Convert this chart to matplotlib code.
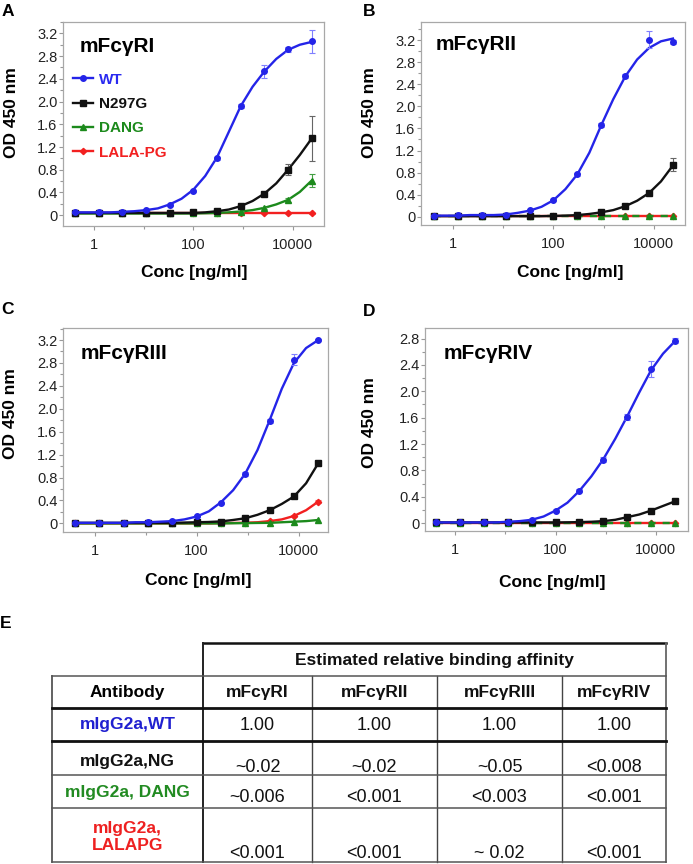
import matplotlib
matplotlib.use('Agg')
import matplotlib.pyplot as plt
from matplotlib.lines import Line2D
from matplotlib.ticker import FixedLocator, MultipleLocator, FuncFormatter, NullFormatter

plt.rcParams['font.family'] = ['Liberation Sans', 'DejaVu Sans']

# ── Concentrations (ng/ml), 1:3 dilution series ─────────────────────
conc = [0.41, 1.23, 3.7, 11.1, 33.3, 100, 300, 900, 2700, 8100, 24300]
# points (half steps)
conc_fit = [0.41, 0.71, 1.23, 2.13, 3.7, 6.4, 11.1, 19.2, 33.3, 57.7, 100,
            173, 300, 520, 900, 1560, 2700, 4680, 8100, 14000, 24300]

# ── A: mFcγRI ───────────────────────────────────────────────────────
a_wt = [0.05, 0.05, 0.06, 0.09, 0.18, 0.43, 1.00, 1.92, 2.53, 2.92, 3.06]
a_wt_err = [0.01, 0.01, 0.01, 0.01, 0.01, 0.02, 0.03, 0.03, 0.12, 0.04, 0.20]
a_wt_fit = [0.05, 0.05, 0.05, 0.05, 0.06, 0.07, 0.09, 0.12, 0.19, 0.29, 0.45,
            0.69, 1.02, 1.47, 1.92, 2.26, 2.53, 2.75, 2.91, 3.00, 3.05]
a_ng = [0.04, 0.04, 0.04, 0.04, 0.04, 0.05, 0.07, 0.17, 0.37, 0.80, 1.35]
a_ng_err = [0, 0, 0, 0, 0, 0.01, 0.01, 0.02, 0.03, 0.10, 0.40]
a_ng_fit = [0.04, 0.04, 0.04, 0.04, 0.04, 0.04, 0.04, 0.04, 0.04, 0.04, 0.04,
            0.05, 0.07, 0.10, 0.16, 0.25, 0.38, 0.56, 0.80, 1.06, 1.35]
a_dang = [0.03, 0.03, 0.03, 0.03, 0.03, 0.03, 0.04, 0.06, 0.13, 0.27, 0.61]
a_dang_err = [0, 0, 0, 0, 0, 0, 0, 0.01, 0.02, 0.03, 0.11]
a_dang_fit = [0.03, 0.03, 0.03, 0.03, 0.03, 0.03, 0.03, 0.03, 0.03, 0.03, 0.03,
              0.035, 0.04, 0.05, 0.065, 0.09, 0.13, 0.19, 0.27, 0.41, 0.61]
a_lala = [0.03, 0.03, 0.03, 0.03, 0.03, 0.03, 0.03, 0.03, 0.03, 0.03, 0.03]
a_lala_err = [0, 0, 0, 0, 0, 0, 0, 0, 0, 0, 0.01]

# ── B: mFcγRII ──────────────────────────────────────────────────────
b_wt = [0.02, 0.03, 0.03, 0.04, 0.12, 0.30, 0.77, 1.66, 2.55, 3.21, 3.17]
b_wt_err = [0.01, 0.01, 0.01, 0.01, 0.02, 0.02, 0.03, 0.04, 0.04, 0.16, 0.03]
b_wt_fit = [0.02, 0.02, 0.02, 0.03, 0.03, 0.03, 0.04, 0.07, 0.11, 0.18, 0.30,
            0.50, 0.77, 1.16, 1.66, 2.13, 2.54, 2.85, 3.06, 3.18, 3.23]
b_ng = [0.01, 0.01, 0.01, 0.01, 0.01, 0.01, 0.03, 0.08, 0.19, 0.43, 0.94]
b_ng_err = [0, 0, 0, 0, 0, 0, 0, 0.01, 0.02, 0.02, 0.12]
b_ng_fit = [0.01, 0.01, 0.01, 0.01, 0.01, 0.01, 0.01, 0.01, 0.01, 0.01, 0.015,
            0.02, 0.03, 0.05, 0.08, 0.12, 0.19, 0.29, 0.43, 0.64, 0.93]
b_dang = [0.01, 0.01, 0.01, 0.01, 0.01, 0.01, 0.01, 0.01, 0.01, 0.01, 0.01]
b_lala = [0.005, 0.005, 0.005, 0.005, 0.005, 0.005, 0.005, 0.005, 0.005, 0.005, 0.005]

# ── C: mFcγRIII ─────────────────────────────────────────────────────
c_wt = [0.01, 0.01, 0.01, 0.02, 0.04, 0.13, 0.36, 0.86, 1.79, 2.86, 3.20]
c_wt_err = [0, 0, 0, 0, 0.01, 0.01, 0.02, 0.03, 0.04, 0.09, 0.02]
c_wt_fit = [0.01, 0.01, 0.01, 0.01, 0.01, 0.02, 0.02, 0.03, 0.04, 0.07, 0.12,
            0.21, 0.37, 0.58, 0.87, 1.28, 1.80, 2.35, 2.80, 3.06, 3.20]
c_ng = [0.01, 0.01, 0.01, 0.01, 0.01, 0.02, 0.03, 0.09, 0.24, 0.47, 1.06]
c_ng_err = [0, 0, 0, 0, 0, 0, 0, 0.01, 0.01, 0.01, 0.02]
c_ng_fit = [0.01, 0.01, 0.01, 0.01, 0.01, 0.01, 0.01, 0.01, 0.01, 0.015, 0.02,
            0.025, 0.035, 0.06, 0.09, 0.15, 0.23, 0.34, 0.47, 0.70, 1.05]
c_dang = [0.0, 0.0, 0.0, 0.0, 0.0, 0.0, 0.0, 0.005, 0.01, 0.03, 0.06]
c_dang_fit = [0.0, 0.0, 0.0, 0.0, 0.0, 0.0, 0.0, 0.0, 0.0, 0.0, 0.0,
              0.0, 0.0, 0.003, 0.005, 0.008, 0.01, 0.02, 0.03, 0.04, 0.06]
c_lala = [0.0, 0.0, 0.0, 0.0, 0.0, 0.0, 0.005, 0.01, 0.04, 0.13, 0.38]
c_lala_err = [0, 0, 0, 0, 0, 0, 0, 0, 0.01, 0.01, 0.02]
c_lala_fit = [0.0, 0.0, 0.0, 0.0, 0.0, 0.0, 0.0, 0.0, 0.0, 0.0, 0.0,
              0.0, 0.005, 0.008, 0.012, 0.02, 0.04, 0.07, 0.13, 0.23, 0.38]

# ── D: mFcγRIV ──────────────────────────────────────────────────────
d_wt = [0.01, 0.01, 0.01, 0.02, 0.05, 0.19, 0.49, 0.96, 1.61, 2.34, 2.77]
d_wt_err = [0, 0, 0, 0, 0.01, 0.02, 0.02, 0.04, 0.05, 0.12, 0.04]
d_wt_fit = [0.01, 0.01, 0.01, 0.01, 0.01, 0.01, 0.02, 0.03, 0.05, 0.10, 0.19,
            0.31, 0.49, 0.71, 0.97, 1.28, 1.62, 1.98, 2.32, 2.57, 2.76]
d_ng = [0.01, 0.01, 0.01, 0.01, 0.01, 0.01, 0.02, 0.03, 0.09, 0.18, 0.33]
d_ng_err = [0, 0, 0, 0, 0, 0, 0, 0, 0.01, 0.01, 0.01]
d_ng_fit = [0.01, 0.01, 0.01, 0.01, 0.01, 0.01, 0.01, 0.01, 0.01, 0.01, 0.01,
            0.012, 0.015, 0.02, 0.03, 0.05, 0.09, 0.13, 0.19, 0.26, 0.33]
d_dang = [0.005, 0.005, 0.005, 0.005, 0.005, 0.005, 0.005, 0.005, 0.005, 0.005, 0.005]
d_lala = [0.005, 0.005, 0.005, 0.005, 0.005, 0.005, 0.005, 0.005, 0.005, 0.005, 0.005]

# ── Table E ─────────────────────────────────────────────────────────
antibodies = ['mIgG2a,WT', 'mIgG2a,NG', 'mIgG2a, DANG', 'mIgG2a,\nLALAPG']
receptors = ['mFcγRI', 'mFcγRII', 'mFcγRIII', 'mFcγRIV']
affinity = [
    ['1.00', '1.00', '1.00', '1.00'],
    ['~0.02', '~0.02', '~0.05', '<0.008'],
    ['~0.006', '<0.001', '<0.003', '<0.001'],
    ['<0.001', '<0.001', '~ 0.02', '<0.001'],
]

series_names = ['WT', 'N297G', 'DANG', 'LALA-PG']
colors = {'WT': '#2424e8', 'N297G': '#111111', 'DANG': '#1c8a1c', 'LALA-PG': '#f22020'}
ecolors = {'WT': '#7f7fff', 'N297G': '#666666', 'DANG': '#44a044', 'LALA-PG': '#f06a6a'}
markers = {'WT': ('o', 4.0), 'N297G': ('s', 4.0), 'DANG': ('^', 4.6), 'LALA-PG': ('D', 3.2)}
label_colors = ['#2020d0', '#111111', '#228b22', '#ee2020']

W, H = 693, 864
fig = plt.figure(figsize=(W / 100, H / 100), dpi=100)


def px_axes(left, top, right, bottom):
    return fig.add_axes([left / W, 1 - bottom / H, (right - left) / W, (bottom - top) / H])


def px_text(x, y, s, **kw):
    fig.text(x / W, 1 - y / H, s, **kw)


def zero_fmt(v, pos):
    return '0' if abs(v) < 1e-9 else f'{v:.1f}'


# panel letter, title, box (px), xlim, ylim, ytick max, letter pos, title pos, ylabel pos, xlabel pos, series
panels = [
    ('A', 'mFcγRI', (63, 22, 324, 226), (0.235, 43000), (-0.19, 3.40), 3.2,
     (8, 12), (80, 47), (12, 113), (194, 272),
     {'LALA-PG': (a_lala, a_lala_err, None), 'DANG': (a_dang, a_dang_err, a_dang_fit),
      'N297G': (a_ng, a_ng_err, a_ng_fit), 'WT': (a_wt, a_wt_err, a_wt_fit)}),
    ('B', 'mFcγRII', (421, 22, 685, 225), (0.226, 42300), (-0.15, 3.53), 3.2,
     (369, 11), (436, 45), (370, 113), (570, 272),
     {'LALA-PG': (b_lala, None, None), 'DANG': (b_dang, None, None),
      'N297G': (b_ng, b_ng_err, b_ng_fit), 'WT': (b_wt, b_wt_err, b_wt_fit)}),
    ('C', 'mFcγRIII', (63, 328, 328, 532), (0.239, 37700), (-0.15, 3.41), 3.2,
     (7, 309), (81, 353), (11, 414), (198, 580),
     {'LALA-PG': (c_lala, c_lala_err, c_lala_fit), 'DANG': (c_dang, None, c_dang_fit),
      'N297G': (c_ng, c_ng_err, c_ng_fit), 'WT': (c_wt, c_wt_err, c_wt_fit)}),
    ('D', 'mFcγRIV', (425, 328, 688, 531), (0.247, 44200), (-0.12, 2.96), 2.8,
     (369, 311), (444, 353), (370, 423), (552, 582),
     {'LALA-PG': (d_lala, None, None), 'DANG': (d_dang, None, None),
      'N297G': (d_ng, d_ng_err, d_ng_fit), 'WT': (d_wt, d_wt_err, d_wt_fit)}),
]

for (letter, title, box, xlim, ylim, ytop, lpos, tpos, ylpos, xlpos, data) in panels:
    ax = px_axes(*box)
    ax.set_xscale('log')
    for z, name in enumerate(['LALA-PG', 'DANG', 'N297G', 'WT']):
        meas, err, fit = data[name]
        c = colors[name]
        ls = '-'
        # in B and D the flat DANG/LALA-PG curves overlap -> red/green dashes
        if name == 'DANG' and letter in ('B', 'D'):
            ls = (0, (3, 3))
        if fit is None:
            ax.plot(conc, meas, color=c, lw=1.7, ls=ls, zorder=2 + z)
        else:
            ax.plot(conc_fit, fit, color=c, lw=1.7, ls=ls, zorder=2 + z)
        m, ms = markers[name]
        ax.errorbar(conc, meas, yerr=err, fmt=m, ms=ms, color=c, mec=c,
                    ecolor=ecolors[name], elinewidth=0.8, capsize=2, capthick=0.8,
                    zorder=2 + z)

    ax.set_xlim(*xlim)
    ax.set_ylim(*ylim)
    ax.xaxis.set_major_locator(FixedLocator([1, 100, 10000]))
    ax.xaxis.set_minor_locator(FixedLocator([10, 1000]))
    ax.xaxis.set_major_formatter(FuncFormatter(lambda v, p: f'{v:g}'))
    ax.xaxis.set_minor_formatter(NullFormatter())
    ax.yaxis.set_major_locator(FixedLocator([i * 0.4 for i in range(int(round(ytop / 0.4)) + 1)]))
    ax.yaxis.set_minor_locator(MultipleLocator(0.2))
    ax.yaxis.set_major_formatter(FuncFormatter(zero_fmt))

    for sp in ax.spines.values():
        sp.set_color('#a8a8a8')
        sp.set_linewidth(0.9)
    ax.tick_params(which='both', direction='out', color='#999999', width=0.8,
                   labelsize=10.5, labelcolor='#222222')
    ax.tick_params(which='major', length=2.6)
    ax.tick_params(which='minor', length=2.0)
    ax.tick_params(axis='x', pad=6)
    ax.tick_params(axis='y', pad=1.5)

    px_text(lpos[0], lpos[1], letter, fontsize=12.5, fontweight='bold', ha='center', va='center')
    px_text(tpos[0], tpos[1], title, fontsize=15, fontweight='bold', ha='left', va='center')
    px_text(ylpos[0], ylpos[1], 'OD 450 nm', fontsize=12.5, fontweight='bold',
            rotation=90, ha='center', va='center')
    px_text(xlpos[0], xlpos[1], 'Conc [ng/ml]', fontsize=12.5, fontweight='bold',
            ha='center', va='center')

    if letter == 'A':
        handles = [Line2D([], [], color=colors[n], lw=1.7, marker=markers[n][0],
                          ms=markers[n][1]) for n in series_names]
        leg = ax.legend(handles, series_names, loc='upper left', bbox_to_anchor=(0.038, 0.752),
                        frameon=False, prop={'weight': 'bold', 'size': 11},
                        handlelength=1.3, handletextpad=0.4, labelspacing=0.68,
                        borderpad=0, borderaxespad=0, numpoints=1)
        for txt, n in zip(leg.get_texts(), series_names):
            txt.set_color(colors[n] if n != 'WT' else '#2a2af0')

# ── Panel E: table ──────────────────────────────────────────────────
tab = fig.add_axes([0, 0, 1, 1], zorder=-1)
tab.set_xlim(0, W)
tab.set_ylim(H, 0)
tab.axis('off')

col_x = [51.7, 203.3, 311.7, 437, 562, 666]
head_top = 643
row_y = [675.5, 708.3, 741, 775, 808.3, 862]

tab.text(6, 623, 'E', fontsize=12.5, fontweight='bold', ha='center', va='center')

# lines
tab.plot([col_x[1], col_x[5]], [head_top, head_top], color='#111111', lw=1.8)
tab.plot([col_x[1], col_x[1]], [head_top, row_y[-1]], color='#222222', lw=1.4)
tab.plot([col_x[5], col_x[5]], [head_top, row_y[-1]], color='#666666', lw=1.3)
tab.plot([col_x[0], col_x[0]], [row_y[0], row_y[-1]], color='#555555', lw=1.3)
for x in col_x[2:5]:
    tab.plot([x, x], [row_y[0], row_y[-1]], color='#444444', lw=1.0)
for i, y in enumerate(row_y):
    if i in (1, 2):
        tab.plot([col_x[0], col_x[5]], [y, y], color='#111111', lw=2.0)
    else:
        tab.plot([col_x[0], col_x[5]], [y, y], color='#555555', lw=1.1)

fs = 12.5
tab.text((col_x[1] + col_x[5]) / 2, 660, 'Estimated relative binding affinity',
         fontsize=fs, fontweight='bold', ha='center', va='center', color='#111111')
col_c = [(col_x[i] + col_x[i + 1]) / 2 for i in range(5)]
tab.text(col_c[0], 693, 'Antibody', fontsize=fs, fontweight='bold', ha='center', va='center')
for cx, r in zip(col_c[1:], receptors):
    tab.text(cx, 693, r, fontsize=fs, fontweight='bold', ha='center', va='center',
             color='#111111')

label_y = [725, 761.5, 793, 837]
value_y = [725, 767, 798, 853]
for ab, lc, ly, vy, vals in zip(antibodies, label_colors, label_y, value_y, affinity):
    tab.text(col_c[0], ly, ab, fontsize=fs, fontweight='bold', ha='center', va='center',
             color=lc, linespacing=1.2)
    for cx, v in zip(col_c[1:], vals):
        tab.text(cx, vy, v, fontsize=13, ha='center', va='center', color='#111111')

fig.savefig('out.png', dpi=100, facecolor='white')
